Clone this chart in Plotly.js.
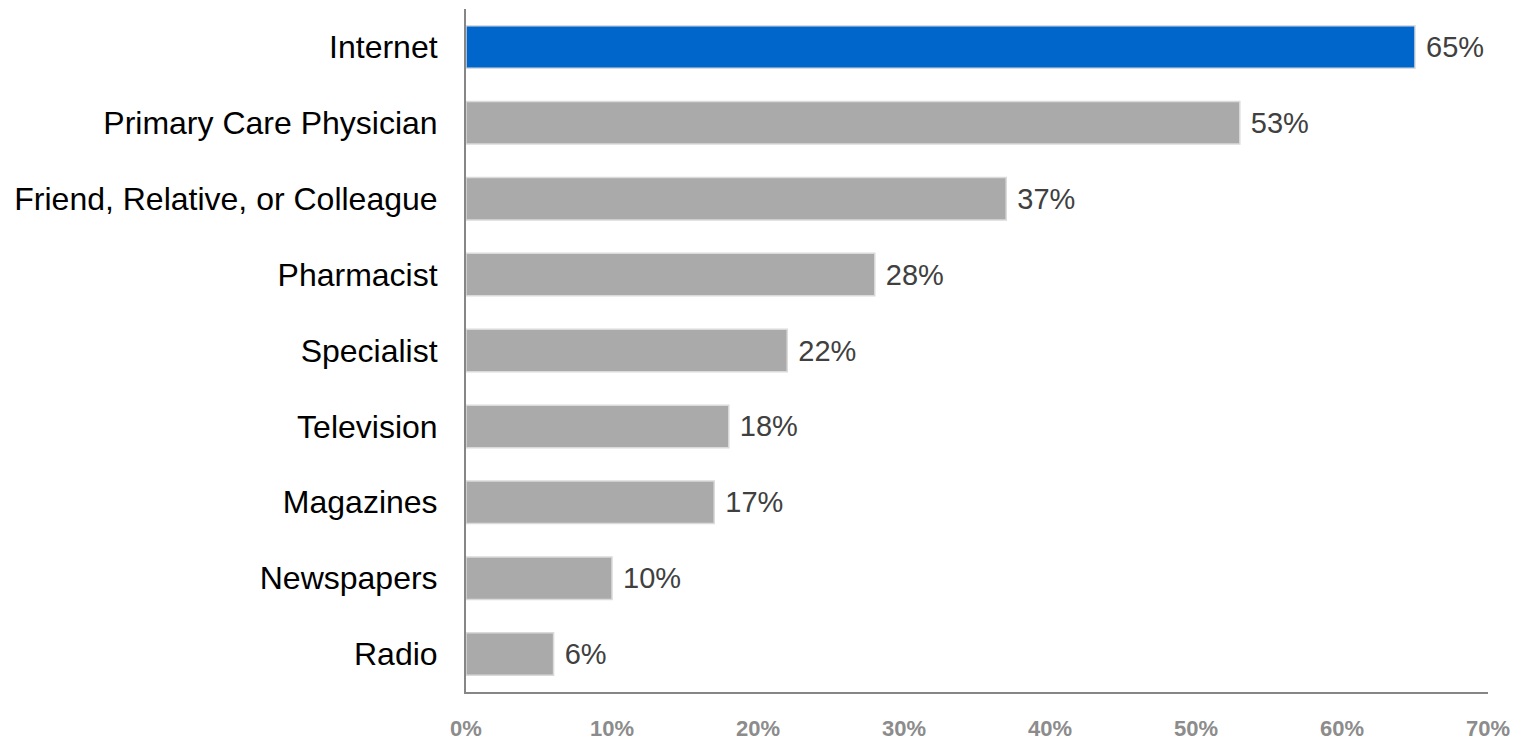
<!DOCTYPE html>
<html>
<head>
<meta charset="utf-8">
<script src="https://cdn.plot.ly/plotly-3.0.1.min.js"></script>
<style>html,body{margin:0;padding:0;background:#fff;}#chart{width:1522px;height:741px;}</style>
</head>
<body>
<div id="chart"></div>
<script>
const categories = ["Internet","Primary Care Physician","Friend, Relative, or Colleague","Pharmacist","Specialist","Television","Magazines","Newspapers","Radio"];
const values = [65,53,37,28,22,18,17,10,6];
const valueLabels = ["65%","53%","37%","28%","22%","18%","17%","10%","6%"];
const barColors = ["#0066CC","#AAAAAA","#AAAAAA","#AAAAAA","#AAAAAA","#AAAAAA","#AAAAAA","#AAAAAA","#AAAAAA"];
const xTickVals = [0,10,20,30,40,50,60,70];
const xTickText = ["0%","10%","20%","30%","40%","50%","60%","70%"];

const trace = {
  type: "bar",
  orientation: "h",
  y: categories,
  x: values,
  text: valueLabels,
  texttemplate: " %{text}",
  textposition: "outside",
  cliponaxis: false,
  textfont: {family: "Liberation Sans, Arial, sans-serif", size: 29, color: "#404040"},
  marker: {color: barColors, line: {color: "#DADADA", width: 1.5}},
  width: 0.56,
  hoverinfo: "none"
};

const layout = {
  width: 1522, height: 741,
  margin: {l: 466, r: 34, t: 9, b: 49},
  paper_bgcolor: "#fff", plot_bgcolor: "#fff",
  showlegend: false,
  xaxis: {
    range: [0, 70], tickvals: xTickVals, ticktext: xTickText,
    showgrid: false, zeroline: false,
    showline: true, linecolor: "#868686", linewidth: 2,
    ticks: "", ticklabelstandoff: 16,
    tickfont: {family: "Liberation Sans, Arial, sans-serif", size: 22, color: "#8C8C8C", weight: "bold"}
  },
  yaxis: {
    type: "category", range: [8.5, -0.5],
    showgrid: false, zeroline: false,
    showline: true, linecolor: "#868686", linewidth: 2,
    ticks: "", ticklabelstandoff: 20,
    tickfont: {family: "Liberation Sans, Arial, sans-serif", size: 32, color: "#000"}
  }
};

Plotly.newPlot("chart", [trace], layout, {displayModeBar: false, staticPlot: true});
</script>
</body>
</html>
